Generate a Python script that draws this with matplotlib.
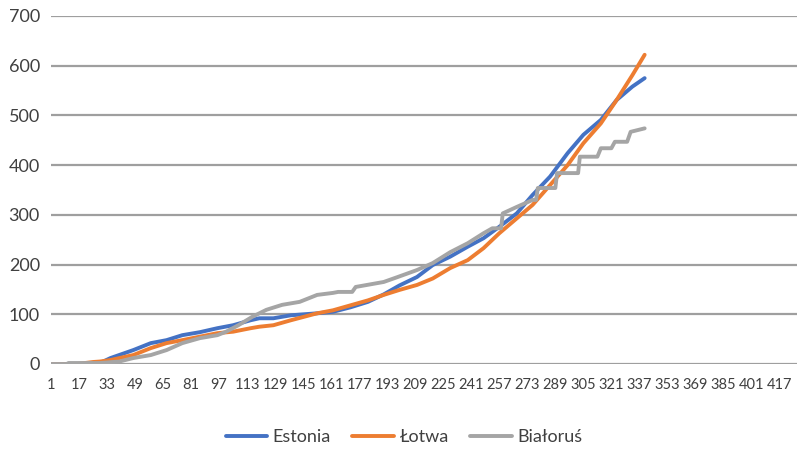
import matplotlib.pyplot as plt

days_lv_ee = [1, 16, 25, 29, 35, 48, 58, 67, 76, 86, 96, 105, 115, 120, 128, 138, 153, 162,
              172, 182, 191, 200, 210, 219, 229, 239, 248, 257, 267, 276, 286, 296, 305,
              315, 324, 333, 340]
estonia = [0, 0, 1, 2, 12, 28, 42, 48, 58, 64, 72, 78, 88, 92, 92, 98, 102, 105,
           114, 125, 140, 158, 175, 199, 216, 236, 253, 276, 303, 340, 377, 424, 461,
           491, 531, 558, 575]
lotwa = [0, 0, 4, 5, 8, 18, 32, 42, 48, 55, 62, 65, 72, 75, 78, 88, 102, 108,
         118, 128, 139, 149, 159, 172, 193, 209, 233, 263, 293, 320, 360, 400, 444,
         484, 531, 581, 622]

days_by = [1, 10, 11, 29, 40, 48, 58, 67, 76, 86, 96, 101, 108, 116, 124, 133, 143, 153,
           162, 165, 173, 175, 191, 199, 210, 219, 229, 239, 248, 253, 258, 259, 267,
           276, 278, 279, 289, 290, 302, 303, 313, 315, 321, 323, 330, 332, 340]
bialorus = [0, 0, 2, 2, 5, 12, 18, 28, 42, 52, 58, 65, 78, 95, 109, 119, 125, 139,
            143, 145, 145, 155, 165, 175, 189, 203, 225, 243, 263, 273, 273, 303, 316,
            330, 330, 354, 354, 384, 384, 417, 417, 434, 434, 447, 447, 467, 474]

n_days = 427
x_ticks = list(range(1, 418, 16))

plt.rcParams['font.family'] = ['Lato', 'DejaVu Sans']

fig = plt.figure(figsize=(8.01, 4.53), dpi=100)
ax = fig.add_axes([51 / 801, 1 - 364 / 453, 746 / 801, 348 / 453])

ax.plot(days_lv_ee, estonia, color='#4472C4', lw=2.8, label='Estonia', solid_capstyle='round')
ax.plot(days_lv_ee, lotwa, color='#ED7D31', lw=2.8, label='Łotwa', solid_capstyle='round')
ax.plot(days_by, bialorus, color='#A5A5A5', lw=2.8, label='Białoruś', solid_capstyle='round')

ax.set_xlim(1, n_days)
ax.set_ylim(0, 700)
ax.set_yticks(range(0, 701, 100))
ax.set_xticks(x_ticks)
ax.set_xticklabels([str(t) for t in x_ticks], fontsize=10.5, color='#404040')
ax.tick_params(axis='y', length=0, pad=8, labelsize=13, labelcolor='#404040')
ax.tick_params(axis='x', length=0, pad=10)

ax.grid(axis='y', color='#9f9f9f', lw=1.6)
ax.set_axisbelow(True)
for s in ['top', 'right', 'left', 'bottom']:
    ax.spines[s].set_visible(False)

fig.legend(loc='center', bbox_to_anchor=(404 / 801, 1 - 437 / 453), ncol=3, frameon=False,
           fontsize=13, handlelength=2.3, handletextpad=0.3, columnspacing=1.2,
           labelcolor='#404040')

fig.savefig('out.png', dpi=100)
